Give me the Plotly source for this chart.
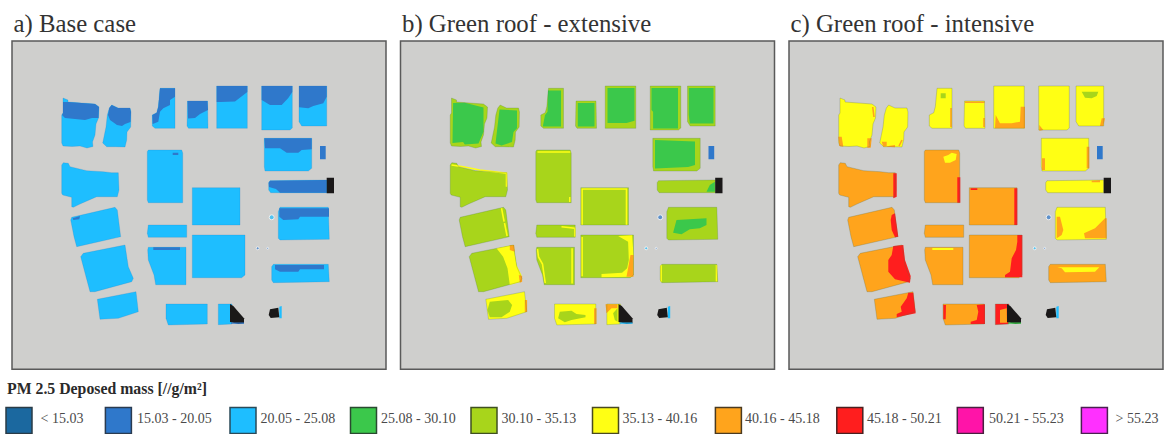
import plotly.graph_objects as go

# ---- colour classes ----
CLASS_LABELS = ["< 15.03", "15.03 - 20.05", "20.05 - 25.08", "25.08 - 30.10", "30.10 - 35.13",
                "35.13 - 40.16", "40.16 - 45.18", "45.18 - 50.21", "50.21 - 55.23", "> 55.23"]
CLASS_COLORS = ["#1B689F", "#2F78CB", "#1EBEFF", "#3BC84B", "#A8D51B",
                "#FFFF14", "#FFA41C", "#FF1E1E", "#FF14A8", "#FF30FF"]
SWATCH_EDGES = ["#2A3B46", "#2A3B50", "#2A4A58", "#2A4A30", "#3F5020",
                "#4A4A20", "#4A3A20", "#4A2020", "#4A2040", "#4A2050"]
SWATCH_X = [19, 118.4, 243, 363.5, 484, 605.5, 728.4, 849.8, 970.3, 1094.4]
LABEL_X = [40.5, 137, 260.5, 381, 501.5, 622.5, 745, 867, 989, 1115.5]
BLACK = "#1A1818"
DARK, MID, LIGHT, GREEN, LIME, YELLOW, ORANGE, RED = (
    CLASS_COLORS[1], CLASS_COLORS[1], CLASS_COLORS[2], CLASS_COLORS[3],
    CLASS_COLORS[4], CLASS_COLORS[5], CLASS_COLORS[6], CLASS_COLORS[7])

TITLES = ["a) Base case", "b) Green roof - extensive", "c) Green roof - intensive"]
TITLE_X = [13.5, 402, 790.5]
HEADER = "PM 2.5 Deposed mass [//g/m²]"

# ---- building outlines (map coordinates) ----
B1 = [(63,98),(68,100),(68,102),(95,104),(99,107),(98.5,118),(96,124),(95,135),(92.5,142),(93,146.5),(87,148),(80,146),(72,146.5),(63,146),(61.7,143),(61.7,115),(63,113)]
B2 = [(111.7,105),(118,108),(130,108),(131,112),(130.7,127),(127,132),(126.7,140),(125,147),(115,146.7),(106.7,146.7),(102.7,143),(104,137),(106,127),(107.3,115),(109.3,108)]
B3 = [(160,88.3),(175,88.3),(175,128.3),(155,128.3),(152.3,126),(152.3,115),(156.7,112.7),(158.3,106.7)]
B4 = [(187.5,101),(207.5,101),(208,128.3),(188.5,128.3),(187,126)]
B5 = [(216.7,86),(247.3,86),(247.3,128.3),(216.7,128.3)]
B6 = [(261.7,86),(292.3,86),(292.3,128),(290,130),(261.7,130)]
B7 = [(299,86),(326.7,86),(326.7,126),(301.7,126),(299,121.7)]
B8 = [(264.3,138.3),(311.7,138.3),(311.7,168.3),(308.3,171),(265,171),(264.3,166.7)]
SMALL = [(320,146),(325.7,146),(325.7,159.3),(320,159.3)]
LONG = [(270,180.7),(326.7,180),(326.7,192.7),(270.7,192.7),(268.7,190),(268.7,182.7)]
TALL = [(148.3,150),(181.7,150),(182.7,153),(182.7,202.7),(148.3,202.7),(147.3,200),(147.3,151.7)]
SQUARE = [(192.3,187.7),(240,187.7),(240,225),(192.3,225)]
WEST = [(63.3,162.7),(68.3,163.3),(70,166.7),(86.7,170.7),(103.3,171.7),(111.7,172.7),(118.3,172.7),(119,190),(117.3,196.7),(96.7,196.7),(80,204),(73.3,207.3),(71.7,206.7),(71.7,197.3),(62.7,195),(61.7,193.3),(61.7,165)]
TILT1 = [(115,207.3),(117.3,210),(120.7,236.7),(118.3,237.3),(76.7,246.7),(74,236.7),(70.7,220),(71.7,217.3)]
TILT2 = [(125,245),(128.3,266.7),(133.3,278.3),(131.7,281.7),(95,291.7),(90,291.7),(86,276.7),(80.7,256.7),(83.3,253.3)]
TILT3 = [(136,291.7),(138.3,311.7),(118.3,318.3),(100,319.3),(97.3,299.3),(126.7,293.3)]
STRIP = [(148.3,225),(186.7,225),(186.7,237.3),(148.3,237.3),(147.3,233.3)]
TRAP = [(148.3,247.3),(186,247.3),(186,284.7),(155.7,284.7),(154,275),(148.3,260),(147.7,250)]
BIG = [(192.3,235),(245,235),(245,275),(241.7,277.7),(192.3,277.7)]
RIGHT1 = [(280,207.3),(328.3,207.3),(329.3,239.3),(280,240),(278.3,238.3),(278.3,211.7)]
RIGHT2 = [(273.3,264.3),(328.3,264.3),(329.3,281.7),(273.3,282.7),(271.7,280),(271.7,266.7)]
LOW1 = [(166,304),(207.3,304),(207.3,324),(168.3,325),(166,318.3)]
LOW2 = [(218.3,304),(232,304),(232,324),(218.3,324.7)]
BLACK1 = [(326.7,177.7),(334,177.7),(334,193.3),(326.7,193.3)]
BLACK2 = [(230,304),(233.3,306),(238.3,311.7),(244,318.3),(244,323.3),(238.3,324),(230,322)]
BLACK3 = [(270,309.3),(278.3,307.7),(279.3,317.3),(270.7,318),(268.7,315)]
SIDE3 = [(279.3,306.7),(281.7,306),(281.7,318.3),(279.3,318.3)]
BASE2 = [(231,323.2),(244,323.2)]
DOTS_X = [271.7, 257.7, 267.7]
DOTS_Y = [217.3, 248.3, 248.3]
DOTS_SIZE = [5, 3, 2]

# ---- panel a patches ----
A_B1 = [(63,102),(68,102),(95,104),(99,107),(98.5,118),(92,118),(85,120),(65,118),(62,115),(63,113)]
A_B2 = [(111.7,105),(118,108),(130,108),(131,112),(130.5,122),(125,124),(122,126),(117,125),(110,120),(108,115),(109.3,108)]
A_B3 = [(160,88.3),(175,88.3),(175,96.7),(170,100),(170,105),(163.3,108.3),(160,111.7),(158.3,121.7),(152.7,124),(152.3,115),(156.7,112.7),(158.3,106.7)]
A_B4 = [(187.5,101),(207.5,101),(208,110),(200,114),(195,118),(188,118.5)]
A_B5 = [(216.7,86),(247.3,86),(247.3,92),(241,97),(235,101.5),(220,102),(216.7,102)]
A_B6 = [(261.7,86),(292.3,86),(292.3,92),(288.3,98),(281.7,105),(270,105),(261.7,100)]
A_B7 = [(299,86),(326.7,86),(326.7,96.7),(323.3,103.3),(313.3,106),(308.3,108.3),(299,107.3)]
A_B8 = [(264.3,138.3),(311.7,138.3),(311.7,149.3),(301.7,150),(298.3,152.7),(286.7,152.7),(280,148.3),(265,148.3)]
A_LONG = [(270,180.7),(326.7,180),(326.7,192.7),(280,192.7),(276,189),(269,187),(268.7,182.7)]
A_TILT = [(72.7,218.3),(80,216),(79.3,219.3),(73.3,220)]
A_TRAP = [(153.3,247.3),(180,247.3),(180,250),(153.3,250)]
A_TALL = [(172.7,152.7),(178.3,152.7),(178.3,155),(172.7,155)]
A_R1 = [(279.3,208.3),(329,208.3),(329,216.7),(300,216.7),(298.3,219.3),(283.3,220),(279.3,216.7)]
A_R2 = [(275,265),(324,265),(324,269.3),(300,269.3),(298.3,271.7),(280,271.7),(275,269.3)]

# ---- panel b patches ----
E_B1 = [(64.6,103),(76.3,102.7),(95,107.5),(95,131.7),(90,143.5),(76.3,144.5),(74.6,142),(64,143)]
E_B2 = [(111,109.5),(128.5,110.5),(128.5,128.3),(125,132),(123.5,142),(113,145.5),(107,143.5),(109,123.3)]
E_B3 = [(159.5,90.5),(172.5,90.5),(172.5,126.5),(154.3,126.5),(156.5,115),(159,111.7)]
E_B4 = [(189.3,103),(206,103),(206,126.5),(189.3,126.5)]
E_B5 = [(219,88),(246,88),(246,120.7),(238,123),(219,123)]
E_B6 = [(263,88),(289.5,88),(289.5,128.5),(264.6,128.5),(264.6,111.7),(263,110)]
E_B7 = [(300.3,88),(325,88),(325,123.5),(301.3,123.5),(300.3,115)]
E_B8 = [(266.5,140),(306.5,141.5),(306.5,165),(299.6,167),(266.5,168.5)]
E_LONG = [(318,191.7),(326.3,191.7),(326.3,181.7),(321.3,185)]
E_R1 = [(288,220),(318,218.3),(318,225),(311.3,228.3),(301.3,229.3),(293,234.3),(284.6,232.7)]
E_T2_Y = [(108,248.3),(124.6,245),(128,265),(133,275),(133,281.7),(121.3,285),(119,268.3),(114.6,256.7)]
E_T2_O1 = [(121.3,245.3),(125.6,245),(126.3,251.7),(121.3,250)]
E_T2_O2 = [(130.3,275),(133.6,276),(133.6,281.7),(131.3,282.7)]
E_T3_L = [(101.3,301.7),(119.6,300),(123.6,305),(121.3,311.7),(113,317.3),(101.3,317.3),(99,310)]
E_T3_O = [(136.3,300),(138.6,300),(138.6,311.7),(136.3,312.3)]
E_L1_L = [(171.3,311.7),(183,310.7),(188,314),(197,315),(197,317.3),(183,320),(176.3,322.3),(169.6,318.3)]
E_L1_O = [(205.6,308.3),(208,308.3),(208,324),(205.6,324)]
E_L2_O = [(217,304.3),(229,304.3),(229,308.3),(223,308.3),(218,313.3)]
E_L2_L = [(224.6,313.3),(229,308.3),(229,321.7),(226.3,320)]
E_BIG_Y = [(229.6,236),(243.6,235),(245,255),(243.6,276.7),(213,277.3),(213,274),(233.6,272.7),(238.6,268.3),(240.3,260),(239.6,241.7)]
E_BIG_O = [(242,255),(245,255),(245,276.7),(238,276.7)]
E_LINE_X = [
    [(193.6,225),(193.6,189),(238,189),(238,225)],
    [(149,152),(182,152)],
    [(181.3,197),(181.3,202)],
    [(63,165),(74.6,166.7),(91.3,170),(106.3,171.7),(118,173.3),(118,186.7)],
    [(113,208),(115.6,221.7)],
    [(116,223),(118.6,236)],
    [(173,226.7),(186.3,228.3),(186.3,236.7)],
    [(149,249),(150,257),(154,264),(156.7,283)],
    [(183.6,248.3),(183.6,283.6)],
    [(193.6,237),(193.6,276.3)],
    [(272.6,265),(272.6,281.7)],
    [(328,265),(328,281.7)],
]

# ---- panel c patches ----
I_B5_O = [(218.7,115),(223,123.3),(234.7,123.3),(243,121.7),(243.7,106.7),(248,106.7),(248,128.3),(218,128.3)]
I_B6_O = [(262.3,125),(266.3,130),(262.3,130.7)]
I_B7_L = [(304.7,91.7),(321.3,91.7),(319.7,96),(314.7,98.3),(308,97.7)]
I_B7_O = [(324.7,118.3),(328,118.3),(326.3,126),(323,126)]
I_B3_L = [(163.7,93.3),(168.7,93.3),(168.7,98.3),(163.7,98.3)]
I_B8_O1 = [(265,158.3),(268,158.3),(268,170),(265,170)]
I_B8_O2 = [(309.7,146.7),(312.3,146.7),(312.3,168.3),(309.7,168.3)]
I_LONG_O = [(314.7,180.7),(323,180.3),(323,182.3),(314.7,182.3)]
I_B1_O1 = [(61.3,136.7),(64.7,136.7),(66.3,146.7),(62.3,146)]
I_B1_O2 = [(90.3,138.3),(94.7,138.3),(93.7,147.7),(90.3,147.7)]
I_B2_O = [(104.7,141.7),(109.7,141.7),(109.7,146.7),(118,147.3),(118,145),(106.3,146.7)]
I_TALL_Y = [(166.3,156.7),(171.3,155),(174.7,152.7),(179.7,154),(178.7,160),(173,162.7),(168,162.7)]
I_TALL_R = [(180.3,177.3),(183.3,177.3),(183.3,202.7),(180.3,202.7)]
I_SQ_R = [(237.3,188.3),(240.3,188.3),(240.3,225),(237.3,225)]
I_SQ_R2 = [(193.7,188.3),(200.3,188.3),(200.3,190),(193.7,190)]
I_WEST_R = [(116.3,173.3),(119.7,173.3),(119.7,196.7),(116.3,198.3)]
I_T1_R = [(114.7,215),(118,213.3),(119.7,225),(121.3,236.7),(118,237.3),(114.7,230),(113.7,220)]
I_T2_R = [(116.3,246),(126.3,245),(128,260),(133.7,276),(133,282.7),(118,279.3),(111.3,271.7),(111.3,260),(114.7,255)]
I_T3_R = [(131.3,292.7),(136.3,292.7),(138.7,313.3),(119.7,317.3),(119.7,314),(124.7,311.7),(123.7,306.7),(129.7,298.3)]
I_TRAP_Y = [(155.3,248),(176.3,248),(176.3,250),(155.3,250)]
I_BIG_R = [(240.3,235),(245.3,235),(245.3,277.3),(228,277.3),(228,275),(233,271.7),(234.7,258.3),(239,250),(240.3,241.7)]
I_R1_O1 = [(279.7,216.7),(283,216.7),(286.3,230),(284.7,235),(279.7,238.3)]
I_R1_O2 = [(328,218.3),(329.7,218.3),(329.7,238.3),(308,238.3),(307,233.3),(318,228.3),(323,223.3)]
I_R2_Y = [(280.3,267.3),(322.3,267.3),(318,271.7),(288,272.3),(284.7,268.3)]
I_L1_R1 = [(166.3,305),(169,305),(168.7,319.3),(166.3,319.3)]
I_L1_R2 = [(199.7,305),(208,304.3),(208,324),(193.7,324),(193.7,321.7),(199.7,320),(201.3,311.7)]
I_L2_O = [(223,310),(229.7,308.3),(230,322.7),(223,322.7)]
I_LINE_ORANGE = [
    [(188,102.3),(207.5,102.3)],
    [(207,118),(207,127)],
    [(174,108),(174,127)],
    [(95.7,107),(97,117)],
    [(125,140),(122,146)],
]

PANEL_A = [(LIGHT, p) for p in (B1, B2, B3, B4, B5, B6, B7, B8, TALL, SQUARE, WEST, TILT1, TILT2, TILT3,
                                STRIP, TRAP, BIG, RIGHT1, RIGHT2, LOW1, LOW2, LONG)] + [
    (DARK, p) for p in (A_B1, A_B2, A_B3, A_B4, A_B5, A_B6, A_B7, A_B8, A_LONG, A_TILT, A_TRAP, A_TALL,
                        A_R1, A_R2)]
PANEL_B = [(LIME, p) for p in (B1, B2, B3, B4, B5, B6, B7, B8, TALL, SQUARE, WEST, TILT1, TILT2, STRIP,
                               TRAP, BIG, RIGHT1, RIGHT2, LONG)] + [
    (YELLOW, p) for p in (TILT3, LOW1, LOW2)] + [
    (GREEN, p) for p in (E_B1, E_B2, E_B3, E_B4, E_B5, E_B6, E_B7, E_B8, E_LONG, E_R1)] + [
    (YELLOW, E_T2_Y), (ORANGE, E_T2_O1), (ORANGE, E_T2_O2), (LIME, E_T3_L), (ORANGE, E_T3_O),
    (LIME, E_L1_L), (ORANGE, E_L1_O), (ORANGE, E_L2_O), (LIME, E_L2_L), (YELLOW, E_BIG_Y), (ORANGE, E_BIG_O)]
PANEL_C = [(YELLOW, p) for p in (B1, B2, B3, B4, B5, B6, B7, B8, RIGHT1, LONG)] + [
    (ORANGE, p) for p in (TALL, SQUARE, WEST, TILT1, TILT2, TILT3, STRIP, TRAP, BIG, RIGHT2, LOW1)] + [
    (RED, LOW2), (ORANGE, I_B5_O), (ORANGE, I_B6_O), (LIME, I_B7_L), (ORANGE, I_B7_O), (LIME, I_B3_L),
    (ORANGE, I_B8_O1), (ORANGE, I_B8_O2), (ORANGE, I_LONG_O), (ORANGE, I_B1_O1), (ORANGE, I_B1_O2),
    (ORANGE, I_B2_O), (YELLOW, I_TALL_Y), (RED, I_TALL_R), (RED, I_SQ_R), (RED, I_SQ_R2), (RED, I_WEST_R),
    (RED, I_T1_R), (RED, I_T2_R), (RED, I_T3_R), (YELLOW, I_TRAP_Y), (RED, I_BIG_R), (ORANGE, I_R1_O1),
    (ORANGE, I_R1_O2), (YELLOW, I_R2_Y), (RED, I_L1_R1), (RED, I_L1_R2), (ORANGE, I_L2_O)]
PANEL_LINES = [[], [(YELLOW, l) for l in E_LINE_X], [(ORANGE, l) for l in I_LINE_ORANGE]]
PANEL_EDGE = ["rgba(30,120,190,0.35)", "rgba(70,120,60,0.4)", "rgba(90,110,70,0.45)"]
PANEL_BASE2 = [DARK, LIGHT, GREEN]
PANEL_DOMAINS = [(12, 386), (400.5, 774.5), (789, 1163)]
PANELS = [PANEL_A, PANEL_B, PANEL_C]
FRAME_TOP, FRAME_BOTTOM = 41, 369.3
W, H = 1164, 434

fig = go.Figure()


def poly(axis, color, pts):
    xs = [p[0] for p in pts] + [pts[0][0]]
    ys = [p[1] for p in pts] + [pts[0][1]]
    fig.add_trace(go.Scatter(x=xs, y=ys, mode="lines", fill="toself", fillcolor=color,
                             line=dict(color=color, width=0),
                             xaxis=f"x{axis}", yaxis=f"y{axis}", hoverinfo="skip", showlegend=False))


for i, patches in enumerate(PANELS):
    ax = i + 1
    for color, pts in patches:
        poly(ax, color, pts)
    for color, pts in PANEL_LINES[i]:
        fig.add_trace(go.Scatter(x=[p[0] for p in pts], y=[p[1] for p in pts], mode="lines",
                                 line=dict(color=color, width=1.6), xaxis=f"x{ax}", yaxis=f"y{ax}",
                                 hoverinfo="skip", showlegend=False))
    # outline of every building, drawn on top of the patches
    for pts in (B1, B2, B3, B4, B5, B6, B7, B8, TALL, WEST, TILT1, TILT2, TILT3, STRIP, TRAP, BIG,
                RIGHT1, RIGHT2, LOW1, LOW2, LONG, SQUARE):
        fig.add_trace(go.Scatter(x=[p[0] for p in pts] + [pts[0][0]], y=[p[1] for p in pts] + [pts[0][1]],
                                 mode="lines", line=dict(color=PANEL_EDGE[i], width=0.6),
                                 xaxis=f"x{ax}", yaxis=f"y{ax}", hoverinfo="skip", showlegend=False))
    poly(ax, DARK, SMALL)
    poly(ax, BLACK, BLACK1)
    poly(ax, BLACK, BLACK2)
    fig.add_trace(go.Scatter(x=[p[0] for p in BASE2], y=[p[1] for p in BASE2], mode="lines",
                             line=dict(color=PANEL_BASE2[i], width=1.2), xaxis=f"x{ax}", yaxis=f"y{ax}",
                             hoverinfo="skip", showlegend=False))
    poly(ax, LIGHT, SIDE3)
    poly(ax, BLACK, BLACK3)
    fig.add_trace(go.Scatter(x=DOTS_X, y=DOTS_Y, mode="markers",
                             marker=dict(size=DOTS_SIZE, color=[DARK, LIGHT, MID] if i else [LIGHT, MID, MID]),
                             xaxis=f"x{ax}", yaxis=f"y{ax}", hoverinfo="skip", showlegend=False))

# Legend and titles on a full-canvas axis pair
fig.add_trace(go.Scatter(x=SWATCH_X, y=[420.5] * 10, mode="markers",
                         marker=dict(symbol="square", size=26, color=CLASS_COLORS,
                                     line=dict(color=SWATCH_EDGES, width=1.5)),
                         xaxis="x4", yaxis="y4", hoverinfo="skip", showlegend=False, cliponaxis=False))
fig.add_trace(go.Scatter(x=LABEL_X, y=[419.5] * 10, mode="text", text=CLASS_LABELS, textposition="middle right",
                         textfont=dict(family="Liberation Serif", size=14, color="#4a4a4a"),
                         xaxis="x4", yaxis="y4", hoverinfo="skip", showlegend=False))
fig.add_trace(go.Scatter(x=TITLE_X, y=[25.5] * 3, mode="text", text=TITLES, textposition="middle right",
                         textfont=dict(family="Liberation Serif", size=24.8, color="#333333"),
                         xaxis="x4", yaxis="y4", hoverinfo="skip", showlegend=False))
fig.add_trace(go.Scatter(x=[7], y=[390], mode="text", text=[f"<b>{HEADER}</b>"], textposition="middle right",
                         textfont=dict(family="Liberation Serif", size=15.8, color="#2a2a2a"),
                         xaxis="x4", yaxis="y4", hoverinfo="skip", showlegend=False))

layout = dict(width=W, height=H, margin=dict(l=0, r=0, t=0, b=0), paper_bgcolor="white", plot_bgcolor="rgba(0,0,0,0)",
              showlegend=False, autosize=False,
              xaxis4=dict(domain=[0, 1], range=[0, W], visible=False, fixedrange=True),
              yaxis4=dict(domain=[0, 1], range=[H, 0], visible=False, fixedrange=True))
shapes = []
for i, (x0, x1) in enumerate(PANEL_DOMAINS):
    ax = i + 1
    suffix = "" if ax == 1 else str(ax)
    layout[f"xaxis{suffix}"] = dict(domain=[x0 / W, x1 / W], range=[12, 386], visible=False, fixedrange=True,
                                    anchor=f"y{suffix}")
    layout[f"yaxis{suffix}"] = dict(domain=[1 - FRAME_BOTTOM / H, 1 - FRAME_TOP / H], range=[FRAME_BOTTOM, FRAME_TOP],
                                    visible=False, fixedrange=True, anchor=f"x{suffix}")
    shapes.append(dict(type="rect", xref=f"x{suffix} domain", yref=f"y{suffix} domain", x0=0, x1=1, y0=0, y1=1,
                       fillcolor="#CFCFCD", line=dict(color="#5A5A5A", width=1.5), layer="below"))
layout["shapes"] = shapes
fig.update_layout(**layout)

fig.write_html("out.html", config={"displayModeBar": False},
               post_script="document.body.style.margin='0';document.body.style.overflow='hidden';")
